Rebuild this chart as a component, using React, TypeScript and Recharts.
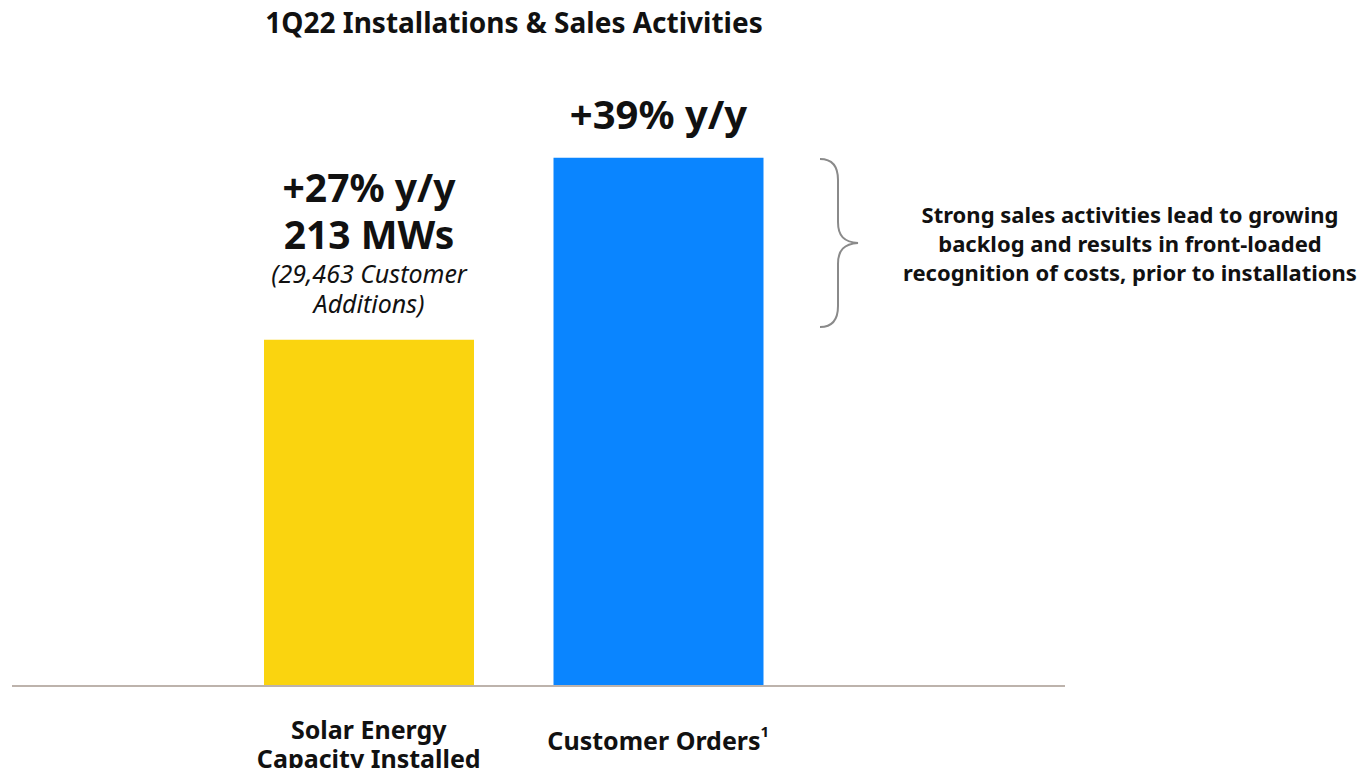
import React from 'react';
import { BarChart, Bar, XAxis, YAxis, Cell, LabelList, Customized } from 'recharts';

const FONT = '"Noto Sans", Lato, sans-serif';

// categories and values (MW)
const categories = ['Solar Energy\nCapacity Installed', 'Customer Orders'];
const values = [213, 325];
const barColors = ['#FAD40F', '#0A85FF'];

// text above each bar
const growthLabels = ['+27% y/y', '+39% y/y'];
const detailLabels = ['213 MWs', ''];
const noteLabels = ['(29,463 Customer', ''];
const noteLabels2 = ['Additions)', ''];

const sideNote = [
  'Strong sales activities lead to growing',
  'backlog and results in front-loaded',
  'recognition of costs, prior to installations',
];

const data = categories.map((name, i) => ({ name, value: values[i] }));

function BarTopLabel(props: any) {
  const { x, y, width, index } = props;
  const cx = x + width / 2;
  if (index === 1) {
    return (
      <text x={cx} y={y - 44} textAnchor="middle" dominantBaseline="central" fontFamily={FONT} fontWeight={700} fontSize={40} fill="#111">
        {growthLabels[index]}
      </text>
    );
  }
  return (
    <g fontFamily={FONT} fill="#111" textAnchor="middle">
      <text x={cx} y={y - 153} dominantBaseline="central" fontWeight={700} fontSize={39}>{growthLabels[index]}</text>
      <text x={cx} y={y - 106} dominantBaseline="central" fontWeight={700} fontSize={39}>{detailLabels[index]}</text>
      <text x={cx} y={y - 67} dominantBaseline="central" fontStyle="italic" fontSize={25}>{noteLabels[index]}</text>
      <text x={cx} y={y - 37} dominantBaseline="central" fontStyle="italic" fontSize={25}>{noteLabels2[index]}</text>
    </g>
  );
}

function CategoryTick(props: any) {
  const { x, y, payload } = props;
  const lines = String(payload.value).split('\n');
  if (lines.length === 1) {
    return (
      <text x={x} y={y + 46} textAnchor="middle" dominantBaseline="central" fontFamily={FONT} fontWeight={700} fontSize={25} fill="#111">
        {lines[0]}
        <tspan fontSize={15} dy={-9}>1</tspan>
      </text>
    );
  }
  return (
    <g fontFamily={FONT} fontWeight={700} fontSize={25} fill="#111" textAnchor="middle">
      {lines.map((l, i) => (
        <text key={i} x={x} y={y + 35 + i * 29} dominantBaseline="central">{l}</text>
      ))}
    </g>
  );
}

function Brace() {
  return (
    <g>
      <path
        d="M820 159 C 832 159, 838 166, 838 180 L 838 222 C 838 236, 844 242, 858 243 C 844 244, 838 250, 838 264 L 838 306 C 838 320, 832 327, 820 327"
        fill="none"
        stroke="#8a8a8a"
        strokeWidth={2}
      />
      <g fontFamily={FONT} fontWeight={700} fontSize={22} fill="#111" textAnchor="middle">
        {sideNote.map((l, i) => (
          <text key={i} x={1130} y={214 + i * 29} dominantBaseline="central">{l}</text>
        ))}
      </g>
    </g>
  );
}

export default function App() {
  return (
    <div style={{ position: 'relative', width: 1370, height: 776, margin: -8, background: '#fff' }}>
      <div
        style={{
          position: 'absolute',
          left: 0,
          width: 1028,
          top: 3,
          textAlign: 'center',
          fontFamily: FONT,
          fontWeight: 700,
          fontSize: 28,
          color: '#111',
        }}
      >
        1Q22 Installations &amp; Sales Activities
      </div>
      <BarChart width={1370} height={776} data={data} margin={{ top: 117, right: 305, left: 12, bottom: 0 }}>
        <YAxis hide domain={[0, 350]} />
        <XAxis
          dataKey="name"
          axisLine={{ stroke: '#BDB3AC', strokeWidth: 2 }}
          tickLine={false}
          tick={<CategoryTick />}
          interval={0}
          padding={{ left: 212, right: 262 }}
          height={90}
        />
        <Bar dataKey="value" barSize={210} isAnimationActive={false}>
          {data.map((_, i) => (
            <Cell key={i} fill={barColors[i]} />
          ))}
          <LabelList dataKey="value" content={<BarTopLabel />} />
        </Bar>
        <Customized component={<Brace />} />
      </BarChart>
    </div>
  );
}
